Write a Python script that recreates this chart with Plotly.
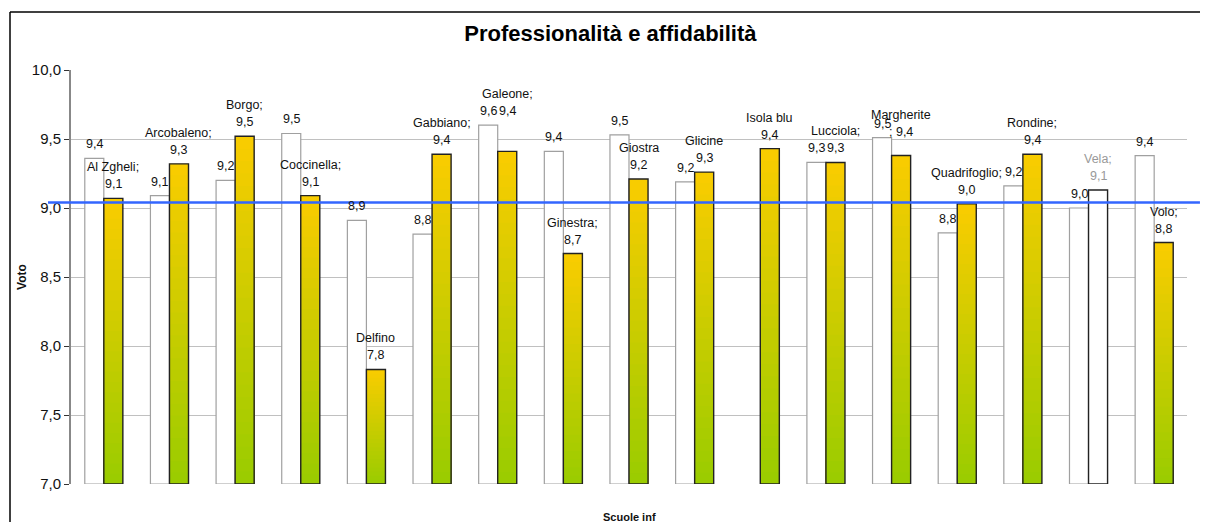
import plotly.graph_objects as go

# Scuole e voti (anno precedente = barre bianche, anno corrente = barre gradiente)
scuole = ["Al Zgheli", "Arcobaleno", "Borgo", "Coccinella", "Delfino", "Gabbiano",
          "Galeone", "Ginestra", "Giostra", "Glicine", "Isola blu", "Lucciola",
          "Margherite", "Quadrifoglio", "Rondine", "Vela", "Volo"]
voto_prec = [9.36, 9.09, 9.20, 9.54, 8.91, 8.81, 9.60, 9.41, 9.53, 9.19, None, 9.33,
             9.51, 8.82, 9.16, 9.00, 9.38]
voto_att = [9.07, 9.32, 9.52, 9.09, 7.83, 9.39, 9.41, 8.67, 9.21, 9.26, 9.43, 9.33,
            9.38, 9.03, 9.39, 9.13, 8.75]
# etichette come appaiono nel grafico originale
etichette = ["Al Zgheli;", "Arcobaleno;", "Borgo;", "Coccinella;", "Delfino", "Gabbiano;",
             "Galeone;", "Ginestra;", "Giostra", "Glicine", "Isola blu", "Lucciola;",
             "Margherite", "Quadrifoglio;", "Rondine;", "Vela;", "Volo;"]
media = 9.04

# spostamenti extra delle etichette (px), come in Excel
extra_shift = {"Galeone": 26, "Margherite": 10}

Y0 = 7.0
W = 0.29
N = 28
TOP = (250, 204, 0)
BOT = (153, 204, 0)
FONT = "Liberation Sans, Arial, sans-serif"


def frac_color(f):
    c = [round(BOT[i] + (TOP[i] - BOT[i]) * f) for i in range(3)]
    return f"rgb({c[0]},{c[1]},{c[2]})"


fig = go.Figure()

# barre bianche
fig.add_trace(go.Bar(
    x=scuole, y=[None if v is None else v - Y0 for v in voto_prec], base=Y0,
    offset=-W, width=W,
    marker=dict(color="white", line=dict(color="#a0a0a0", width=1.2)),
    hoverinfo="skip", showlegend=False,
))

# barre con gradiente giallo -> verde (strati sovrapposti)
for k in range(N):
    f = (N - k) / N
    fmid = (N - k - 0.5) / N
    cols = ["white" if s == "Vela" else frac_color(fmid) for s in scuole]
    fig.add_trace(go.Bar(
        x=scuole, y=[(v - Y0) * f for v in voto_att], base=Y0,
        offset=0, width=W,
        marker=dict(color=cols, line=dict(width=0)),
        hoverinfo="skip", showlegend=False,
    ))

# contorno
fig.add_trace(go.Bar(
    x=scuole, y=[v - Y0 for v in voto_att], base=Y0,
    offset=0, width=W,
    marker=dict(color="rgba(0,0,0,0)", line=dict(color="#222222", width=1.4)),
    hoverinfo="skip", showlegend=False,
))

fmt = lambda v: f"{v:.1f}".replace(".", ",")
annots = []
lab_font = dict(family=FONT, size=12.5, color="#111111")
for i, s in enumerate(scuole):
    if voto_prec[i] is not None:
        annots.append(dict(x=i - W / 2, y=voto_prec[i], text=fmt(voto_prec[i]), showarrow=False,
                           yanchor="middle", yshift=14, font=lab_font))
    col = "#999999" if s == "Vela" else "#111111"
    sh = extra_shift.get(s, 0)
    f2 = dict(lab_font, color=col)
    second = fmt(voto_att[i])
    if s == "Margherite":
        second = "; " + second
    annots.append(dict(x=i + W / 2, y=voto_att[i], text=second, showarrow=False,
                       yanchor="middle", yshift=14 + sh, font=f2))
    annots.append(dict(x=i + W / 2, y=voto_att[i], text=etichette[i], showarrow=False,
                       yanchor="middle", yshift=31 + sh, font=f2))

annots.append(dict(text="<b>Scuole inf</b>", x=0.5, y=-0.08, xref="paper", yref="paper",
                   showarrow=False, yanchor="middle",
                   font=dict(family=FONT, size=11, color="#111")))
annots.append(dict(text="<b>Voto</b>", x=-0.044, y=0.5, xref="paper", yref="paper",
                   showarrow=False, textangle=-90, xanchor="center",
                   font=dict(family=FONT, size=12, color="#111")))

fig.update_layout(
    width=1200, height=514,
    margin=dict(l=63, r=21, t=62, b=38),
    paper_bgcolor="white", plot_bgcolor="white",
    barmode="overlay",
    separators=",.",
    title=dict(text="<b>Professionalità e affidabilità</b>", x=0.502, xanchor="center", y=0.951,
               yanchor="middle",
               font=dict(family=FONT, size=22, color="#000")),
    font=dict(family=FONT, size=13, color="#111"),
    xaxis=dict(showticklabels=False, showgrid=False, zeroline=False, showline=False,
               range=[-0.5, len(scuole) - 0.5]),
    yaxis=dict(range=[7, 10], dtick=0.5, tickformat=".1f", showgrid=True, gridcolor="#c0c0c0",
               gridwidth=1, zeroline=False, showline=True, linecolor="#888888", linewidth=2,
               ticks="outside", ticklen=5, tickcolor="#333", tickfont=dict(size=15)),
    annotations=annots,
    shapes=[
        dict(type="line", xref="paper", yref="y", x0=-0.0206, x1=1.0116, y0=media, y1=media,
             line=dict(color="#3366ff", width=2.5)),
        dict(type="line", xref="paper", yref="paper", x0=(10 - 71) / 1116, x1=(10 - 71) / 1116,
             y0=(484 - 12) / 414, y1=-0.2, line=dict(color="#000", width=1.5)),
        dict(type="line", xref="paper", yref="paper", x0=(10 - 71) / 1116, x1=1.05,
             y0=(484 - 12) / 414, y1=(484 - 12) / 414, line=dict(color="#000", width=1.5)),
    ],
)

fig.write_html("out.html")
